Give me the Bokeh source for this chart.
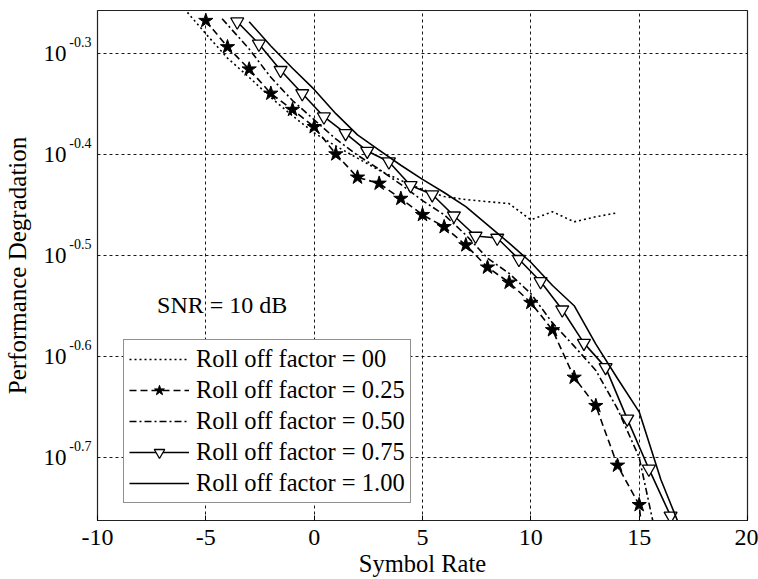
from bokeh.plotting import figure
from bokeh.models import (Range1d, FixedTicker, Legend, LegendItem, Label,
                          CustomJSTickFormatter, LogAxis)
from bokeh.embed import file_html
from bokeh.resources import INLINE

# ---- data (y values read as base-10 exponents) ----
x_ticks = [-10, -5, 0, 5, 10, 15, 20]
y_tick_exps = [-0.7, -0.6, -0.5, -0.4, -0.3]
y_tick_sup = ["-0.7", "-0.6", "-0.5", "-0.4", "-0.3"]

labels = ["Roll off factor = 00", "Roll off factor = 0.25", "Roll off factor = 0.50",
          "Roll off factor = 0.75", "Roll off factor = 1.00"]

x_r00 = [-6, -5, -4, -3, -2, -1, 0, 1, 2, 3, 4, 5, 6, 7, 8, 9, 10, 11, 12, 13, 14]
e_r00 = [-0.256, -0.281, -0.305, -0.324, -0.344, -0.362, -0.379, -0.392, -0.404, -0.416,
         -0.426, -0.435, -0.442, -0.445, -0.447, -0.449, -0.465, -0.457, -0.467, -0.462, -0.458]

x_r25 = [-5, -4, -3, -2, -1, 0, 1, 2, 3, 4, 5, 6, 7, 8, 9, 10, 11, 12, 13, 14, 15, 16]
e_r25 = [-0.268, -0.294, -0.316, -0.340, -0.356, -0.373, -0.400, -0.423, -0.429, -0.444,
         -0.460, -0.472, -0.490, -0.512, -0.527, -0.547, -0.574, -0.621, -0.649, -0.708,
         -0.747, -0.950]

x_r50 = [-4.25, -3, -2, -1, 0, 1, 2, 3, 4, 5, 6, 7, 8, 9, 10, 11, 12, 13, 14, 15, 16]
e_r50 = [-0.266, -0.296, -0.324, -0.347, -0.366, -0.385, -0.401, -0.415, -0.430, -0.446,
         -0.460, -0.480, -0.503, -0.518, -0.538, -0.567, -0.590, -0.614, -0.652, -0.700, -0.800]

x_r75 = [-3.55, -2.55, -1.55, -0.55, 0.45, 1.45, 2.45, 3.45, 4.45, 5.45, 6.45, 7.45, 8.45,
         9.45, 10.45, 11.45, 12.45, 13.45, 14.45, 15.45, 16.45]
e_r75 = [-0.269, -0.291, -0.317, -0.340, -0.363, -0.3795, -0.397, -0.4075, -0.431, -0.440,
         -0.461, -0.481, -0.483, -0.504, -0.526, -0.554, -0.587, -0.611, -0.662, -0.7115, -0.758]

x_r100 = [-3, -2, -1, 0, 1, 2, 3, 4, 5, 6, 7, 8, 9, 10, 11, 12, 13, 14, 15, 16, 17]
e_r100 = [-0.269, -0.293, -0.315, -0.336, -0.360, -0.381, -0.396, -0.411, -0.425, -0.438,
          -0.452, -0.470, -0.488, -0.507, -0.530, -0.550, -0.588, -0.622, -0.655, -0.722, -0.775]

y_exp_range = (-0.7625, -0.2579)
sup_shift = 0.011  # exponent labels sit slightly above their tick


def pw(es):
    return [10 ** e for e in es]


FONT = "Liberation Serif"

p = figure(width=758, height=579, x_range=Range1d(-10, 20),
           y_range=Range1d(10 ** y_exp_range[0], 10 ** y_exp_range[1]),
           y_axis_type="log", output_backend="svg", toolbar_location=None,
           min_border_left=96, min_border_top=10, min_border_right=11, min_border_bottom=57)
p.background_fill_color = "white"
p.border_fill_color = "white"
p.outline_line_color = "#222222"
p.outline_line_width = 1.2

# x axis
xa = p.xaxis[0]
xa.ticker = FixedTicker(ticks=x_ticks)
xa.formatter = CustomJSTickFormatter(code="return tick.toString();")
xa.major_label_text_font = FONT
xa.major_label_text_font_size = "24px"
xa.major_label_text_color = "black"
xa.axis_label = "Symbol Rate"
xa.axis_label_text_font = FONT
xa.axis_label_text_font_size = "24.5px"
xa.axis_label_text_font_style = "normal"
xa.axis_label_text_color = "black"
xa.axis_line_color = "#222222"
xa.major_tick_in = 5
xa.major_tick_out = 0
xa.major_tick_line_color = "black"
xa.minor_tick_line_color = None
xa.major_label_standoff = 9
xa.axis_label_standoff = 2

# y axis: base "10" labels (outer) + exponent labels (inner)
ya = p.yaxis[0]
ya.ticker = FixedTicker(ticks=pw(y_tick_exps))
ya.formatter = CustomJSTickFormatter(code="return '10';")
ya.major_label_text_font = FONT
ya.major_label_text_font_size = "23px"
ya.major_label_text_color = "black"
ya.axis_label = "Performance Degradation"
ya.axis_label_text_font = FONT
ya.axis_label_text_font_size = "25px"
ya.axis_label_text_font_style = "normal"
ya.axis_label_text_color = "black"
ya.axis_line_color = None
ya.major_tick_line_color = None
ya.minor_tick_line_color = None
ya.major_label_standoff = -6
ya.axis_label_standoff = 10

sup_axis = LogAxis(
    ticker=FixedTicker(ticks=[10 ** (e + sup_shift) for e in y_tick_exps]),
    formatter=CustomJSTickFormatter(
        args=dict(exps=y_tick_exps, labels=y_tick_sup, shift=sup_shift),
        code="""
        const e = Math.log10(tick) - shift;
        let best = 0;
        for (let i = 0; i < exps.length; i++) {
            if (Math.abs(exps[i] - e) < Math.abs(exps[best] - e)) best = i;
        }
        return labels[best];
        """),
    axis_line_color=None, major_tick_line_color=None, minor_tick_line_color=None,
    major_label_text_font=FONT, major_label_text_font_size="14px",
    major_label_text_color="black", major_label_standoff=0)
p.add_layout(sup_axis, "left")
p.left = [sup_axis, ya]

p.grid.grid_line_color = "black"
p.grid.grid_line_dash = "3 3"
p.grid.grid_line_width = 1
p.grid.grid_line_alpha = 0.9

lw = 1.6
r0 = p.line(x_r00, pw(e_r00), line_color="black", line_width=lw, line_dash="2 3")
r1l = p.line(x_r25, pw(e_r25), line_color="black", line_width=lw, line_dash="7 4")
r1m = p.scatter(x_r25, pw(e_r25), marker="star", size=15, fill_color="black",
                line_color="black", line_width=1)
r2 = p.line(x_r50, pw(e_r50), line_color="black", line_width=lw, line_dash="7 3 2 3")
r3l = p.line(x_r75, pw(e_r75), line_color="black", line_width=lw)
r3m = p.scatter(x_r75, pw(e_r75), marker="inverted_triangle", size=13, fill_color="white",
                line_color="black", line_width=1.3)
r4 = p.line(x_r100, pw(e_r100), line_color="black", line_width=lw)

legend = Legend(items=[
    LegendItem(label=labels[0], renderers=[r0]),
    LegendItem(label=labels[1], renderers=[r1l, r1m]),
    LegendItem(label=labels[2], renderers=[r2]),
    LegendItem(label=labels[3], renderers=[r3l, r3m]),
    LegendItem(label=labels[4], renderers=[r4]),
], location=(26, 17))
legend.label_text_font = FONT
legend.label_text_font_size = "24.5px"
legend.label_text_color = "black"
legend.glyph_width = 60
legend.glyph_height = 26
legend.label_height = 26
legend.spacing = 3
legend.padding = 5
legend.margin = 0
legend.label_standoff = 7
legend.border_line_color = "#222222"
legend.border_line_width = 1.2
legend.background_fill_color = "white"
legend.background_fill_alpha = 1
p.add_layout(legend)

p.add_layout(Label(x=-7.25, y=10 ** -0.5488, text="SNR = 10 dB", text_baseline="middle",
                   text_font=FONT, text_font_size="24px", text_color="black"))

open("out.html", "w").write(file_html(p, INLINE))
